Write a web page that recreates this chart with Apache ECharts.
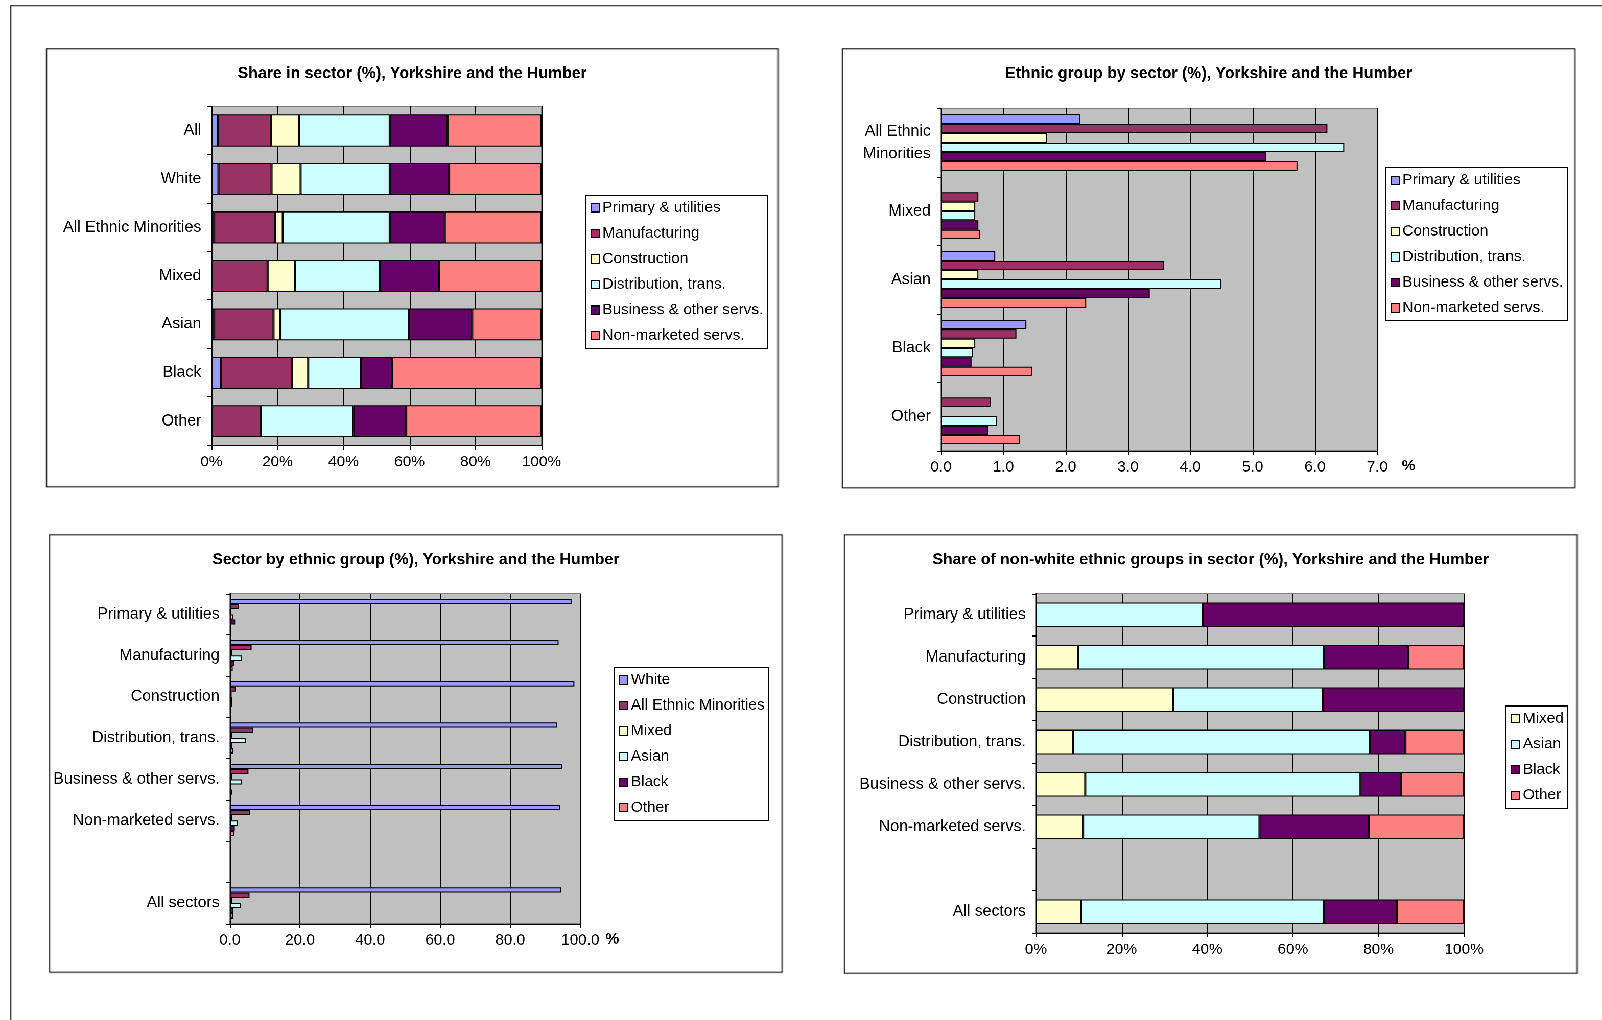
<!DOCTYPE html>
<html>
<head>
<meta charset="utf-8">
<script src="https://cdn.jsdelivr.net/npm/echarts@6/dist/echarts.min.js"></script>
<style>
  body { margin: 0; background: #fff; font-family: 'Liberation Sans', Arial, sans-serif; overflow: hidden; }
  #page { position: absolute; left: 0; top: 0; width: 1568px; height: 1000px; transform: scale(1.0217); transform-origin: 0 0; }
  .frame { position: absolute; left: 10px; top: 5px; width: 1560px; height: 1000px; border-left: 1px solid #000; border-top: 1px solid #000; }
  .panel { position: absolute; border: 1px solid #000; box-sizing: border-box; background: #fff; }
</style>
</head>
<body>
<div id="page">
<div class="frame"></div>
<div class="panel" id="c1" style="left:45px;top:47px;width:717px;height:430px"></div>
<div class="panel" id="c2" style="left:824px;top:47px;width:718px;height:431px"></div>
<div class="panel" id="c3" style="left:48px;top:523px;width:718px;height:429px"></div>
<div class="panel" id="c4" style="left:826px;top:523px;width:718px;height:430px"></div>
</div>
<script>
// --- data ---
const groups = ['All', 'White', 'All Ethnic Minorities', 'Mixed', 'Asian', 'Black', 'Other']
const sectors = ['Primary & utilities', 'Manufacturing', 'Construction', 'Distribution, trans.', 'Business & other servs.', 'Non-marketed servs.']
const sectorColors = ['#9999ff', '#993366', '#ffffcc', '#ccffff', '#660066', '#ff8080']

// share in sector (%), rows = sectors, columns = groups
const shareInSector = [
  [2.0, 2.1, 0.8, null, 0.8, 2.8, null],
  [16.0, 16.1, 18.5, 17.0, 18.0, 21.5, 15.0],
  [8.5, 8.8, 2.3, 8.3, 2.0, 5.0, null],
  [27.5, 27.0, 32.4, 25.7, 39.0, 16.0, 28.0],
  [17.5, 18.0, 16.7, 18.0, 19.2, 9.5, 16.0],
  [28.5, 28.0, 29.3, 31.0, 21.0, 45.2, 41.0]
]

const minorityGroups = ['All Ethnic\nMinorities', 'Mixed', 'Asian', 'Black', 'Other']
// ethnic group by sector (%), rows = sectors, columns = minority groups
const groupBySector = [
  [2.23, null, 0.87, 1.37, null],
  [6.2, 0.6, 3.58, 1.21, 0.8],
  [1.7, 0.55, 0.6, 0.55, null],
  [6.47, 0.55, 4.5, 0.51, 0.9],
  [5.22, 0.6, 3.35, 0.49, 0.76],
  [5.72, 0.63, 2.33, 1.46, 1.27]
]

const sectorCats = ['Primary & utilities', 'Manufacturing', 'Construction', 'Distribution, trans.', 'Business & other servs.', 'Non-marketed servs.', '', 'All sectors']
const ethnicSeries = ['White', 'All Ethnic Minorities', 'Mixed', 'Asian', 'Black', 'Other']
const ethnicColors = ['#9999ff', '#993366', '#ffffcc', '#ccffff', '#660066', '#ff8080']
// sector by ethnic group (%), rows = ethnic series, columns = sectorCats
const sectorByGroup = [
  [97.5, 93.8, 98.3, 93.3, 94.8, 94.2, null, 94.5],
  [2.5, 6.2, 1.7, 6.6, 5.3, 5.8, null, 5.6],
  [0.2, 0.6, 0.5, 0.6, 0.6, 0.6, null, 0.6],
  [1.0, 3.5, 0.6, 4.5, 3.5, 2.3, null, 3.2],
  [1.5, 1.3, 0.6, 0.6, 0.3, 1.4, null, 1.0],
  [null, 0.8, null, 1.0, 0.7, 1.3, null, 1.0]
]

const nonWhite = ['Mixed', 'Asian', 'Black', 'Other']
const nonWhiteColors = ['#ffffcc', '#ccffff', '#660066', '#ff8080']
// share of non-white groups in sector (%), rows = nonWhite, columns = sectorCats
const nonWhiteShare = [
  [null, 9.8, 32.0, 8.7, 11.5, 11.0, null, 10.5],
  [39.0, 57.5, 35.0, 69.3, 64.3, 41.2, null, 56.8],
  [61.0, 19.7, 33.0, 8.3, 9.5, 25.6, null, 17.0],
  [null, 13.0, null, 13.7, 14.7, 22.2, null, 15.7]
]

const font = 'Liberation Sans'

function makeTitle (text) {
  return { text, left: 'center', top: 11, textStyle: { fontFamily: font, fontSize: 15.5, fontWeight: 'bold', color: '#000' } }
}

function makeLegend (names, left, top) {
  return {
    data: names, orient: 'vertical', left, top,
    icon: 'rect', itemWidth: 8, itemHeight: 8, itemGap: 10,
    padding: [5, 4, 5, 5], borderColor: '#000', borderWidth: 1,
    itemStyle: { borderColor: '#000', borderWidth: 1 },
    textStyle: { fontFamily: font, fontSize: 15, color: '#000', padding: [0, 0, 0, -2] }
  }
}

function makeXAxis (max, interval, fmt, name) {
  return {
    type: 'value', min: 0, max, interval,
    name: name || '', nameLocation: 'end', nameGap: 24,
    nameTextStyle: { fontFamily: font, fontSize: 15, fontWeight: 'bold', color: '#000', verticalAlign: 'top', padding: [8, 0, 0, 0] },
    axisLine: { show: true, lineStyle: { color: '#000' } },
    axisTick: { show: true, length: 4, inside: false, lineStyle: { color: '#000' } },
    axisLabel: { fontFamily: font, fontSize: 15, color: '#000', margin: 9, formatter: fmt },
    splitLine: { show: true, lineStyle: { color: '#000', width: 1 } }
  }
}

function makeYAxis (cats) {
  return {
    type: 'category', data: cats, inverse: true,
    axisLine: { show: true, lineStyle: { color: '#000' } },
    axisTick: { show: true, length: 4, lineStyle: { color: '#000' } },
    axisLabel: { fontFamily: font, fontSize: 15.5, color: '#000', margin: 10, lineHeight: 22 }
  }
}

function gridAt (left, top, width, height) {
  return { left, top, width, height, show: true, backgroundColor: '#c0c0c0', borderColor: '#808080', borderWidth: 1 }
}

function barSeries (names, colors, rows, stack, extra) {
  return names.map((n, i) => Object.assign({
    name: n, type: 'bar', stack, data: rows[i],
    itemStyle: { color: colors[i], borderColor: '#000', borderWidth: 1 },
    emphasis: { disabled: true }
  }, extra))
}

const charts = []
const initOpts = { devicePixelRatio: 2 }

// 1. share in sector
const c1 = echarts.init(document.getElementById('c1'), null, initOpts)
c1.setOption({
  animation: false,
  title: makeTitle('Share in sector (%), Yorkshire and the Humber'),
  legend: makeLegend(sectors, 527, 143),
  grid: gridAt(161, 56, 323, 332),
  xAxis: makeXAxis(100, 20, '{value}%'),
  yAxis: makeYAxis(groups),
  series: barSeries(sectors, sectorColors, shareInSector, 'a', { barCategoryGap: '34%' })
})
charts.push(c1)

// 2. ethnic group by sector
const c2 = echarts.init(document.getElementById('c2'), null, initOpts)
c2.setOption({
  animation: false,
  title: makeTitle('Ethnic group by sector (%), Yorkshire and the Humber'),
  legend: makeLegend(sectors, 531, 116),
  grid: gridAt(96, 58, 427, 335),
  xAxis: makeXAxis(7, 1, v => v.toFixed(1), '%'),
  yAxis: makeYAxis(minorityGroups),
  series: barSeries(sectors, sectorColors, groupBySector, undefined, { barGap: '0%', barCategoryGap: '18%' })
})
charts.push(c2)

// 3. sector by ethnic group
const c3 = echarts.init(document.getElementById('c3'), null, initOpts)
c3.setOption({
  animation: false,
  title: makeTitle('Sector by ethnic group (%), Yorkshire and the Humber'),
  legend: makeLegend(ethnicSeries, 552, 129),
  grid: gridAt(176, 57, 343, 323),
  xAxis: makeXAxis(100, 20, v => v.toFixed(1), '%'),
  yAxis: makeYAxis(sectorCats),
  series: barSeries(ethnicSeries, ethnicColors, sectorByGroup, undefined, { barGap: '0%', barCategoryGap: '25%' })
})
charts.push(c3)

// 4. share of non-white groups in sector
const c4 = echarts.init(document.getElementById('c4'), null, initOpts)
c4.setOption({
  animation: false,
  title: makeTitle('Share of non-white ethnic groups in sector (%), Yorkshire and the Humber'),
  legend: makeLegend(nonWhite, 647, 167),
  grid: gridAt(187, 57, 419, 332),
  xAxis: makeXAxis(100, 20, '{value}%'),
  yAxis: makeYAxis(sectorCats),
  series: barSeries(nonWhite, nonWhiteColors, nonWhiteShare, 'b', { barCategoryGap: '42%' })
})
charts.push(c4)

window.addEventListener('resize', () => {
  charts.forEach(c => c.resize())
})
</script>
</body>
</html>
